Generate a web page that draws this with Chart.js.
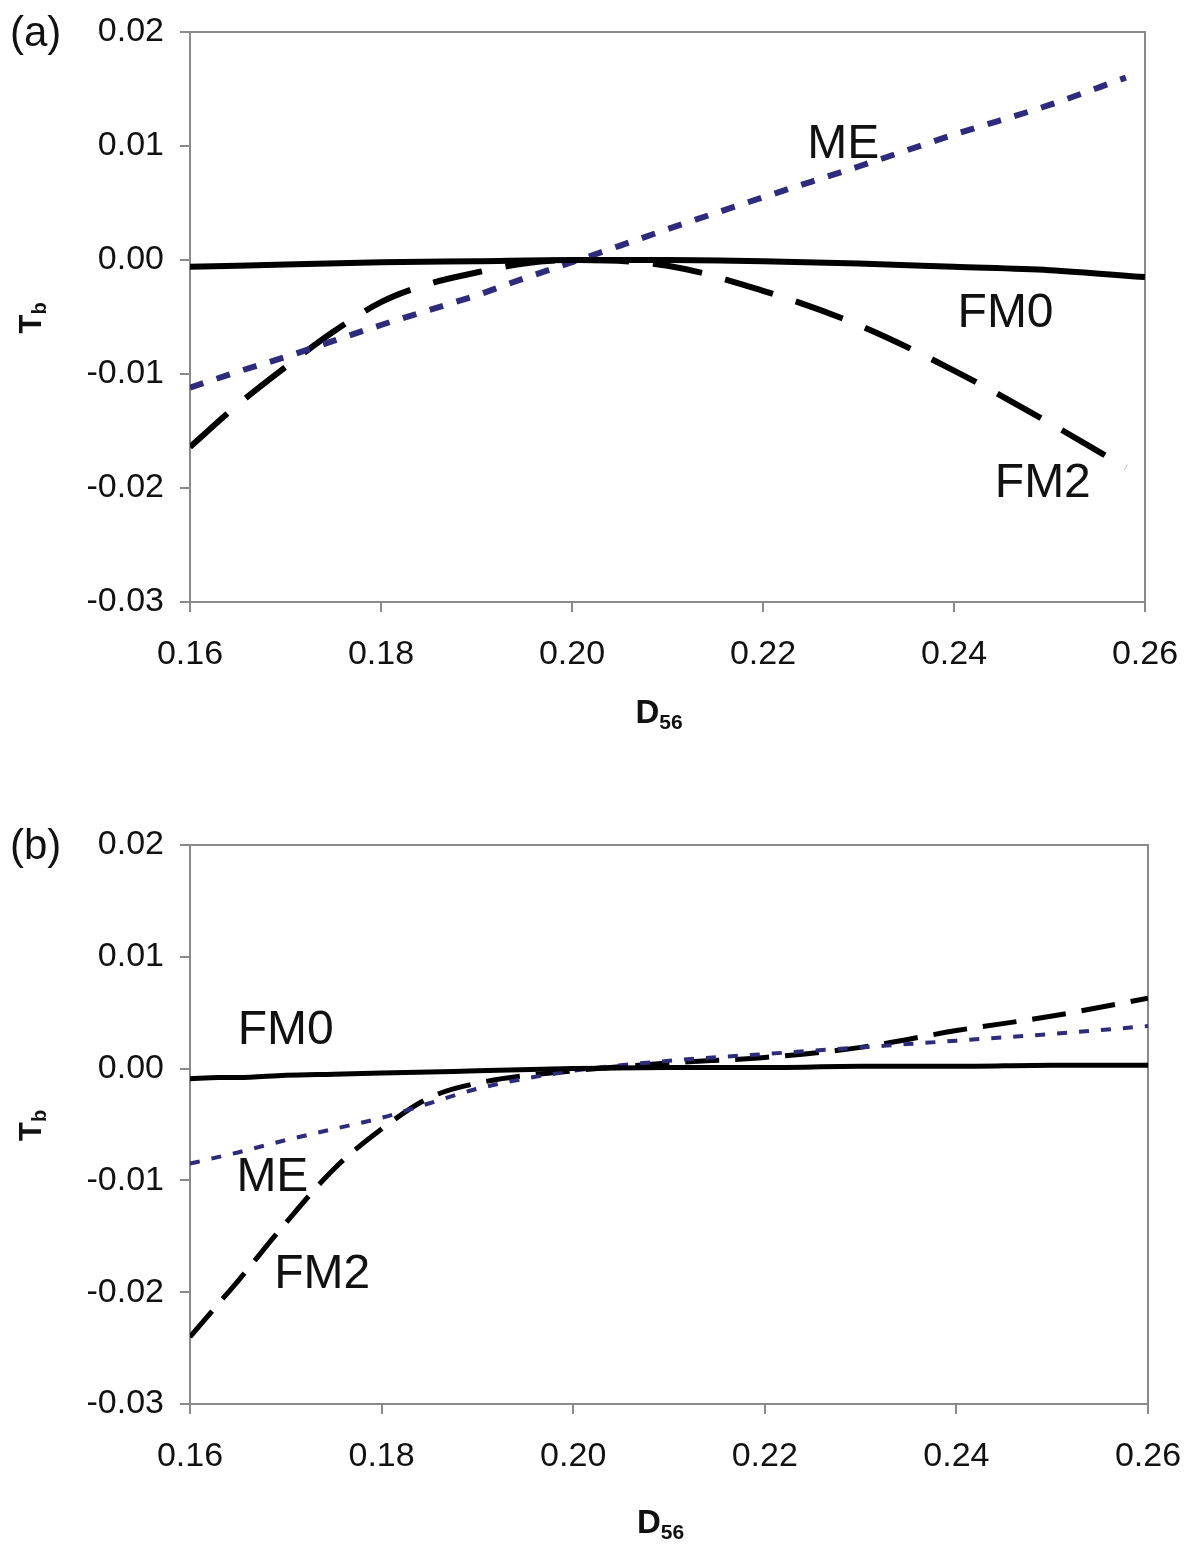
<!DOCTYPE html>
<html>
<head>
<meta charset="utf-8">
<script src="https://cdn.jsdelivr.net/npm/chart.js@4.4.1/dist/chart.umd.min.js"></script>
<style>
  body { margin: 0; background: #fff; }
  .panel { position: absolute; left: 0; }
</style>
</head>
<body>
<div class="panel" style="top:0"><canvas id="chartA" width="1191" height="770"></canvas></div>
<div class="panel" style="top:770px"><canvas id="chartB" width="1191" height="780"></canvas></div>
<script>
// ---- panel (a) values ----
const xA = [0.16, 0.165, 0.17, 0.175, 0.18, 0.185, 0.19, 0.195, 0.20, 0.21, 0.22, 0.23, 0.24, 0.25, 0.258];
const fm0XA = [0.16, 0.17, 0.18, 0.19, 0.20, 0.21, 0.22, 0.23, 0.24, 0.25, 0.26];
const fm0A = [-0.0006, -0.0004, -0.0002, -0.0001, 0.0, 0.0, -0.0001, -0.0003, -0.0006, -0.0009, -0.0015];
const meA  = [-0.0112, -0.0098, -0.0085, -0.0071, -0.0057, -0.0044, -0.0031, -0.0016, -0.0002, 0.0027, 0.0055, 0.0082, 0.0110, 0.0136, 0.0160];
const fm2A = [-0.0164, -0.0127, -0.0094, -0.0063, -0.0037, -0.0021, -0.0011, -0.0003, 0.0, -0.0005, -0.0027, -0.0057, -0.0097, -0.0143, -0.0182];

// ---- panel (b) values ----
const xB = [0.16, 0.163, 0.165, 0.17, 0.175, 0.18, 0.185, 0.19, 0.20, 0.21, 0.22, 0.23, 0.24, 0.25, 0.26];
const fm0B = [-0.0009, -0.0008, -0.0008, -0.0006, -0.0005, -0.0004, -0.0003, -0.0002, 0.0, 0.0001, 0.0001, 0.0002, 0.0002, 0.0003, 0.0003];
const meB  = [-0.0085, -0.0079, -0.0075, -0.0064, -0.0054, -0.0044, -0.0031, -0.0018, -0.0002, 0.0007, 0.0013, 0.0019, 0.0025, 0.0031, 0.0038];
const fm2B = [-0.0240, -0.0210, -0.0190, -0.0138, -0.0090, -0.0054, -0.0026, -0.0013, -0.0002, 0.0005, 0.0010, 0.0019, 0.0034, 0.0047, 0.0063];

const xTicks = [0.16, 0.18, 0.20, 0.22, 0.24, 0.26];
const yTicks = [-0.03, -0.02, -0.01, 0.00, 0.01, 0.02];

const navy = '#2e2a7c';
const axisGray = '#8a8a8a';
const font = "'Liberation Sans', Arial, sans-serif";

const toPts = (xs, ys) => ys.map((y, i) => ({ x: xs[i], y: y }));

// frame, axis titles, panel letter and curve labels
const decorations = {
  id: 'decorations',
  beforeDatasetsDraw(chart) {
    const { ctx, chartArea: a } = chart;
    ctx.save();
    ctx.strokeStyle = axisGray;
    ctx.lineWidth = 2;
    ctx.strokeRect(a.left, a.top, a.right - a.left, a.bottom - a.top);
    ctx.restore();
  },
  afterDraw(chart, args, opts) {
    const { ctx, chartArea: a, scales } = chart;
    ctx.save();
    ctx.fillStyle = '#111';
    ctx.textBaseline = 'middle';

    // panel letter
    ctx.font = '42px ' + font;
    ctx.textAlign = 'left';
    ctx.fillText(opts.letter, 10, a.top + 2);

    // x title D56
    const cx = (a.left + a.right) / 2 - 20;
    const ty = a.bottom + opts.xTitleGap;
    ctx.font = 'bold 33px ' + font;
    ctx.textAlign = 'left';
    ctx.fillText('D', cx - 12, ty);
    const dw = ctx.measureText('D').width;
    ctx.font = 'bold 21px ' + font;
    ctx.fillText('56', cx - 12 + dw, ty + 9);

    // y title Tb
    ctx.save();
    ctx.translate(32, (a.top + a.bottom) / 2 + 2);
    ctx.rotate(-Math.PI / 2);
    ctx.font = 'bold 31px ' + font;
    ctx.textAlign = 'left';
    const tw = ctx.measureText('T').width;
    ctx.fillText('T', -(tw + 10) / 2, 0);
    ctx.font = 'bold 20px ' + font;
    ctx.fillText('b', -(tw + 10) / 2 + tw, 8);
    ctx.restore();

    // curve labels
    ctx.font = '48px ' + font;
    ctx.textAlign = 'center';
    opts.labels.forEach(l => {
      ctx.fillText(l.text, scales.x.getPixelForValue(l.x), scales.y.getPixelForValue(l.y));
    });
    ctx.restore();
  }
};

function makePanel(id, sets, pad, xAxisHeight, deco) {
  return new Chart(document.getElementById(id), {
    type: 'line',
    data: { datasets: sets },
    options: {
      responsive: false,
      animation: false,
      layout: { padding: pad },
      elements: { point: { radius: 0 }, line: { cubicInterpolationMode: 'monotone' } },
      plugins: { legend: { display: false }, tooltip: { enabled: false }, decorations: deco },
      scales: {
        x: {
          type: 'linear', min: 0.16, max: 0.26,
          afterFit: s => { s.height = xAxisHeight; s.paddingLeft = 0; s.paddingRight = 0; },
          afterBuildTicks: s => { s.ticks = xTicks.map(v => ({ value: v })); },
          border: { color: axisGray, width: 2 },
          grid: { drawOnChartArea: false, color: axisGray, tickLength: 10, lineWidth: 2 },
          ticks: { color: '#111', padding: 22, maxRotation: 0, font: { family: font, size: 34 },
                   callback: v => v.toFixed(2) }
        },
        y: {
          type: 'linear', min: -0.03, max: 0.02,
          afterFit: s => { s.width = 190; s.paddingTop = 0; s.paddingBottom = 0; },
          afterBuildTicks: s => { s.ticks = yTicks.map(v => ({ value: v })); },
          border: { color: axisGray, width: 2 },
          grid: { drawOnChartArea: false, color: axisGray, tickLength: 10, lineWidth: 2 },
          ticks: { color: '#111', padding: 16, font: { family: font, size: 34 },
                   callback: v => v.toFixed(2) }
        }
      }
    },
    plugins: [decorations]
  });
}

makePanel('chartA', [
  { label: 'FM0', data: toPts(fm0XA, fm0A), borderColor: '#000', borderWidth: 6 },
  { label: 'ME', data: toPts(xA, meA), borderColor: navy, borderWidth: 6, borderDash: [14, 14] },
  { label: 'FM2', data: toPts(xA, fm2A), borderColor: '#000', borderWidth: 6, borderDash: [50, 24] }
], { left: 0, right: 46, top: 32, bottom: 0 }, 168, {
  letter: '(a)', xTitleGap: 112,
  labels: [
    { text: 'ME', x: 0.2284, y: 0.0101 },
    { text: 'FM0', x: 0.2454, y: -0.0047 },
    { text: 'FM2', x: 0.2493, y: -0.0196 }
  ]
});

makePanel('chartB', [
  { label: 'FM0', data: toPts(xB, fm0B), borderColor: '#000', borderWidth: 5 },
  { label: 'ME', data: toPts(xB, meB), borderColor: navy, borderWidth: 4, borderDash: [10, 12] },
  { label: 'FM2', data: toPts(xB, fm2B), borderColor: '#000', borderWidth: 5, borderDash: [34, 16] }
], { left: 0, right: 43, top: 75, bottom: 0 }, 146, {
  letter: '(b)', xTitleGap: 120,
  labels: [
    { text: 'FM0', x: 0.1700, y: 0.0034 },
    { text: 'ME', x: 0.1686, y: -0.0098 },
    { text: 'FM2', x: 0.1738, y: -0.0184 }
  ]
});
</script>
</body>
</html>
